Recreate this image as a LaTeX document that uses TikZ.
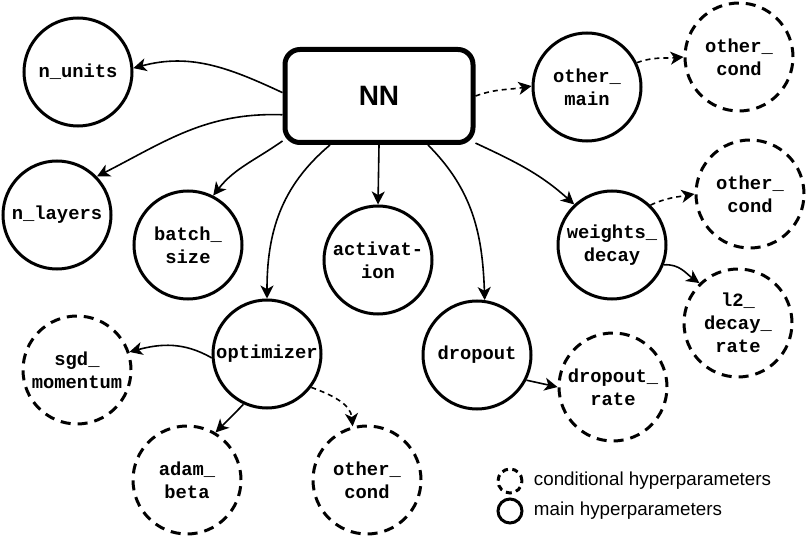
\documentclass[tikz,border=0pt]{standalone}
\usepackage{fontspec}
\usepackage{tikz}
\usetikzlibrary{arrows.meta, positioning}
\newfontfamily\hpmono{Liberation Mono}
\newfontfamily\hpsans{Liberation Sans}
\newcommand{\hpfont}{\hpmono\bfseries\fontsize{9.4}{11.6}\selectfont}

\begin{document}
\begin{tikzpicture}[x=0.5pt, y=0.5pt,
		main/.style={circle, draw, line width=1.5pt, minimum size=54pt, inner sep=0pt, align=center, font=\hpfont},
		cond/.style={main, dash pattern=on 5pt off 3.5pt},
		arr/.style={-{Stealth[length=6.5pt, width=6.5pt, inset=1.8pt]}, line width=0.8pt},
		darr/.style={arr, dash pattern=on 2.5pt off 2pt}]
	\useasboundingbox (0,0) rectangle (810,542);

	\begin{scope}
		\node [draw, rounded corners=7.5pt, line width=2.5pt, minimum width=94pt, minimum height=46.5pt,
			font=\hpsans\bfseries\fontsize{14}{16}\selectfont] (NN) at (379,446) {NN};
	\end{scope}

	% main hyperparameters
	\begin{scope}
		\node [main] (nunits) at (78,470) {n\_units};
		\node [main] (nlayers) at (57,327) {n\_layers};
		\node [main] (batch) at (188,297) {batch\_\\size};
		\node [main] (activation) at (378,282) {activat-\\ion};
		\node [main] (optimizer) at (267,188) {optimizer};
		\node [main] (dropout) at (477,187) {dropout};
		\node [main] (wdecay) at (612,297) {weights\_\\decay};
		\node [main] (othermain) at (587,455) {other\_\\main};
	\end{scope}

	% conditional hyperparameters
	\begin{scope}
		\node [cond] (condA) at (739,485) {other\_\\cond};
		\node [cond] (condB) at (750,348) {other\_\\cond};
		\node [cond] (ltwo) at (738,219) {l2\_\\decay\_\\rate};
		\node [cond] (droprate) at (613,155) {dropout\_\\rate};
		\node [cond] (sgd) at (77,172) {sgd\_\\momentum};
		\node [cond] (adam) at (187,62) {adam\_\\beta};
		\node [cond] (condC) at (367,62) {other\_\\cond};
	\end{scope}

	\begin{scope}[arr]
		\draw (NN.178) to [out=155, in=15] (nunits.4);
		\draw (NN.191) to [out=178, in=27] (nlayers.44);
		\draw (NN.205) to [out=215, in=52] (batch.63);
		\draw (NN.225) to [out=220, in=90] (optimizer.north);
		\draw (NN.south) -- (activation.north);
		\draw (NN.315) to [out=-45, in=92] (dropout.82);
		\draw (NN.334) to [out=-25, in=138] (wdecay.133);
		\draw (wdecay.339) to [out=5, in=145] (ltwo.134);
		\draw (optimizer.184) to [out=150, in=15] (sgd.19);
		\draw (optimizer.245) -- (adam.59);
		\draw (dropout.333) -- (droprate.180);
	\end{scope}

	\begin{scope}[darr]
		\draw (NN.east) to [out=20, in=190] (othermain.179);
		\draw (othermain.26) to [out=20, in=185] (condA.180);
		\draw (wdecay.46) to [out=25, in=190] (condB.180);
		\draw (optimizer.323) to [out=-20, in=95] (condC.105);
	\end{scope}

	% legend
	\begin{scope}
		\node [cond, minimum size=12pt, dash pattern=on 3pt off 2.2pt] (lgcond) at (510,61) {};
		\node [main, minimum size=12pt] (lgmain) at (510,31) {};
		\node [right=5pt of lgcond, font=\hpsans\fontsize{9.4}{11}\selectfont, inner sep=0pt] {conditional hyperparameters};
		\node [right=5pt of lgmain, font=\hpsans\fontsize{9.4}{11}\selectfont, inner sep=0pt] {main hyperparameters};
	\end{scope}
\end{tikzpicture}
\end{document}
